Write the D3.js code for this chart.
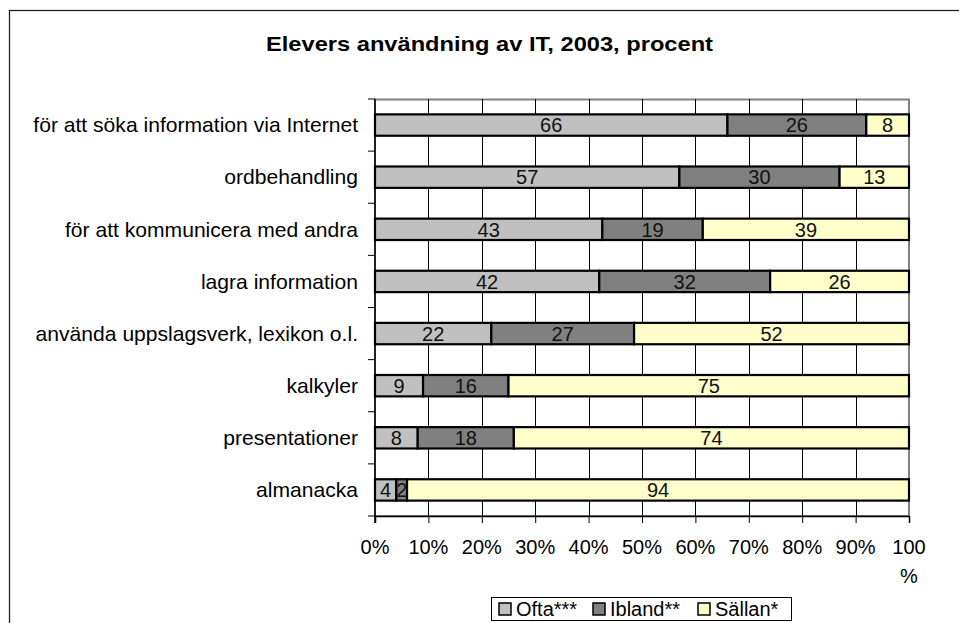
<!DOCTYPE html>
<html>
<head>
<meta charset="utf-8">
<script src="https://cdn.jsdelivr.net/npm/d3@7/dist/d3.min.js"></script>
<style>
  html, body { margin: 0; padding: 0; background: #fff; }
  svg { display: block; font-family: "Liberation Sans", Arial, sans-serif; }
</style>
</head>
<body>
<svg id="chart" width="959" height="623"></svg>
<script>
// Survey categories, top to bottom
const categories = [
  "för att söka information via Internet",
  "ordbehandling",
  "för att kommunicera med andra",
  "lagra information",
  "använda uppslagsverk, lexikon o.l.",
  "kalkyler",
  "presentationer",
  "almanacka"
];
// Percentages per answer
const ofta   = [66, 57, 43, 42, 22, 9, 8, 4];
const ibland = [26, 30, 19, 32, 27, 16, 18, 2];
const sallan = [8, 13, 39, 26, 52, 75, 74, 94];

const seriesNames = ["Ofta***", "Ibland**", "Sällan*"];
const seriesColors = ["#C0C0C0", "#808080", "#FFFFCC"];
const xTicks = [0, 10, 20, 30, 40, 50, 60, 70, 80, 90, 100];
const title = "Elevers användning av IT, 2003, procent";

const svg = d3.select("#chart");

// Outer chart frame (runs past the right/bottom edges)
svg.append("rect")
  .attr("x", 9.5).attr("y", 10.5)
  .attr("width", 1000).attr("height", 700)
  .attr("fill", "#fff").attr("stroke", "#222").attr("stroke-width", 1.3);

svg.append("text")
  .attr("x", 266).attr("y", 51)
  .attr("font-size", 21).attr("font-weight", "bold")
  .attr("textLength", 447).attr("lengthAdjust", "spacingAndGlyphs")
  .text(title);

const plotL = 375, plotR = 909, plotT = 99, plotB = 516;

const x = d3.scaleLinear().domain([0, 100]).range([plotL, plotR]);
const y = d3.scaleBand().domain(categories).range([plotT, plotB])
  .paddingInner(0.59).paddingOuter(0.295);

// Plot area border (gray)
svg.append("rect")
  .attr("x", plotL).attr("y", plotT + 0.5)
  .attr("width", plotR - plotL).attr("height", plotB - plotT - 0.5)
  .attr("fill", "#fff").attr("stroke", "#808080").attr("stroke-width", 2);

// Vertical gridlines
svg.append("g")
  .selectAll("line")
  .data(xTicks.filter(t => t > 0 && t < 100))
  .join("line")
  .attr("x1", d => Math.round(x(d)) + 0.5).attr("x2", d => Math.round(x(d)) + 0.5)
  .attr("y1", plotT).attr("y2", plotB)
  .attr("stroke", "#000").attr("stroke-width", 1);

// 100% stacked segments: each row normalised by its own total
const rows = categories.map((c, i) => ({ cat: c, v: [ofta[i], ibland[i], sallan[i]] }));
const segs = [];
rows.forEach(r => {
  const total = d3.sum(r.v);
  let acc = 0;
  r.v.forEach((v, k) => {
    const share = v / total * 100;
    segs.push({ cat: r.cat, k, v, x0: acc, x1: acc + share });
    acc += share;
  });
});

const barG = svg.append("g");
barG.selectAll("rect")
  .data(segs)
  .join("rect")
  .attr("x", d => x(d.x0))
  .attr("y", d => y(d.cat))
  .attr("width", d => x(d.x1) - x(d.x0))
  .attr("height", y.bandwidth())
  .attr("fill", d => seriesColors[d.k])
  .attr("stroke", "#000").attr("stroke-width", 2.2);

barG.selectAll("text")
  .data(segs)
  .join("text")
  .attr("x", d => (x(d.x0) + x(d.x1)) / 2)
  .attr("y", d => y(d.cat) + y.bandwidth() / 2)
  .attr("dy", "0.36em")
  .attr("text-anchor", "middle")
  .attr("font-size", 20)
  .attr("fill", "#111")
  .text(d => d.v);

// X axis
const xAxis = d3.axisBottom(x).tickValues(xTicks).tickSize(7).tickFormat(() => "");
const gx = svg.append("g").attr("transform", `translate(0,${plotB})`).call(xAxis);
gx.select(".domain").attr("stroke", "#000").attr("stroke-width", 1.5);
gx.selectAll(".tick line").attr("stroke", "#000");

const xl = svg.append("g").attr("font-size", 20).attr("text-anchor", "middle");
xTicks.forEach(t => {
  const tx = xl.append("text").attr("x", x(t)).attr("y", 554);
  if (t === 100) {
    tx.append("tspan").attr("x", x(t)).text("100");
    tx.append("tspan").attr("x", x(t)).attr("dy", 29).text("%");
  } else {
    tx.text(t + "%");
  }
});

// Y axis with ticks at category boundaries
const gy = svg.append("g");
gy.append("line")
  .attr("x1", plotL).attr("x2", plotL).attr("y1", plotT).attr("y2", plotB + 7)
  .attr("stroke", "#000").attr("stroke-width", 1.5);
const step = y.step();
gy.selectAll("line.tk")
  .data(d3.range(categories.length + 1))
  .join("line").attr("class", "tk")
  .attr("x1", plotL - 7).attr("x2", plotL)
  .attr("y1", i => plotT + i * step).attr("y2", i => plotT + i * step)
  .attr("stroke", "#000");

gy.selectAll("text")
  .data(categories)
  .join("text")
  .attr("transform", d => `translate(358,${y(d) + y.bandwidth() / 2}) scale(1.055,1)`)
  .attr("dy", "0.36em")
  .attr("text-anchor", "end")
  .attr("font-size", 20)
  .text(d => d);

// Legend
const lg = svg.append("g");
lg.append("rect")
  .attr("x", 491.5).attr("y", 597.5).attr("width", 300).attr("height", 23)
  .attr("fill", "#fff").attr("stroke", "#000").attr("stroke-width", 1);
const legendX = [499, 593, 698];
seriesNames.forEach((n, k) => {
  lg.append("rect")
    .attr("x", legendX[k]).attr("y", 603).attr("width", 12).attr("height", 12)
    .attr("fill", seriesColors[k]).attr("stroke", "#000").attr("stroke-width", 1.5);
  lg.append("text")
    .attr("x", legendX[k] + 17).attr("y", 609).attr("dy", "0.36em")
    .attr("font-size", 20).text(n);
});
</script>
</body>
</html>
